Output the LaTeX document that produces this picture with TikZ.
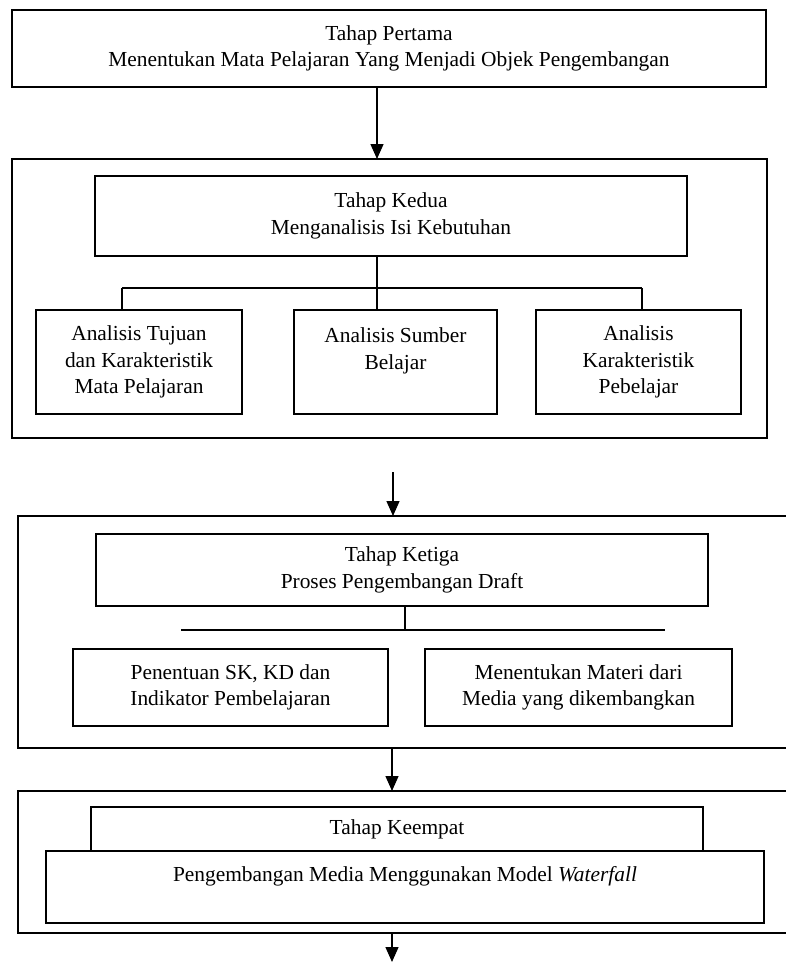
\documentclass[tikz,border=0pt]{standalone}
\usepackage{fontspec}
\setmainfont{Liberation Serif}
\usetikzlibrary{arrows.meta, positioning, backgrounds}
\pgfdeclarelayer{edgelayer}
\pgfdeclarelayer{nodelayer}
\pgfsetlayers{nodelayer,main,edgelayer}
\tikzset{
	box/.style={draw, line width=1.3pt, align=center, inner sep=0pt, font=\fontsize{21.4}{26.5}\selectfont},
	flow/.style={line width=1.3pt, -{Triangle[length=15pt,width=13pt]}},
	tee/.style={line width=1.3pt},
}

\begin{document}
\begin{tikzpicture}[x=1pt, y=-1pt]
	\useasboundingbox (0,0) rectangle (786,962);
	\begin{pgfonlayer}{nodelayer}
		\node [box, minimum width=754, minimum height=77] (0) at (389, 48.5) {Tahap Pertama\\Menentukan Mata Pelajaran Yang Menjadi Objek Pengembangan};
		\node [box, minimum width=755, minimum height=279] (1) at (389.5, 298.5) {};
		\node [box, minimum width=592, minimum height=80] (2) at (391, 216) {Tahap Kedua\\Menganalisis Isi Kebutuhan};
		\node [box, minimum width=206, minimum height=104] (3) at (139, 362) {Analisis Tujuan\\dan Karakteristik\\Mata Pelajaran};
		\node [box, minimum width=203, minimum height=104] (4) at (395.5, 362) {Analisis Sumber\\Belajar\\\mbox{}};
		\node [box, minimum width=205, minimum height=104] (5) at (638.5, 362) {Analisis\\Karakteristik\\Pebelajar};
		\node [box, minimum width=782, minimum height=232] (6) at (409, 632) {};
		\node [box, minimum width=612, minimum height=72] (7) at (402, 570) {Tahap Ketiga\\Proses Pengembangan Draft};
		\node [box, minimum width=315, minimum height=77] (8) at (230.5, 687.5) {Penentuan SK, KD dan\\Indikator Pembelajaran};
		\node [box, minimum width=307, minimum height=77] (9) at (578.5, 687.5) {Menentukan Materi dari\\Media yang dikembangkan};
		\node [box, minimum width=782, minimum height=142] (10) at (409, 862) {};
		\node [box, minimum width=612, minimum height=44] (11) at (397, 829) {Tahap Keempat};
		\node [box, minimum width=718, minimum height=72] (12) at (405, 887) {Pengembangan Media Menggunakan Model \textit{Waterfall}\\\mbox{}};
		\node [] (13) at (377, 87) {};
		\node [] (14) at (377, 159) {};
		\node [] (15) at (377, 256) {};
		\node [] (16) at (377, 288) {};
		\node [] (17) at (122, 288) {};
		\node [] (18) at (642, 288) {};
		\node [] (19) at (122, 310) {};
		\node [] (20) at (377, 310) {};
		\node [] (21) at (642, 310) {};
		\node [] (22) at (393, 472) {};
		\node [] (23) at (393, 516) {};
		\node [] (24) at (405, 606) {};
		\node [] (25) at (405, 630) {};
		\node [] (26) at (181, 630) {};
		\node [] (27) at (665, 630) {};
		\node [] (28) at (392, 748) {};
		\node [] (29) at (392, 791) {};
		\node [] (30) at (392, 933) {};
		\node [] (31) at (392, 962) {};
	\end{pgfonlayer}
	\begin{pgfonlayer}{edgelayer}
		\draw [flow] (13.center) to (14.center);
		\draw [tee] (15.center) to (20.center);
		\draw [tee] (17.center) to (18.center);
		\draw [tee] (17.center) to (19.center);
		\draw [tee] (18.center) to (21.center);
		\draw [flow] (22.center) to (23.center);
		\draw [tee] (24.center) to (25.center);
		\draw [tee] (26.center) to (27.center);
		\draw [flow] (28.center) to (29.center);
		\draw [flow] (30.center) to (31.center);
	\end{pgfonlayer}
\end{tikzpicture}
\end{document}
